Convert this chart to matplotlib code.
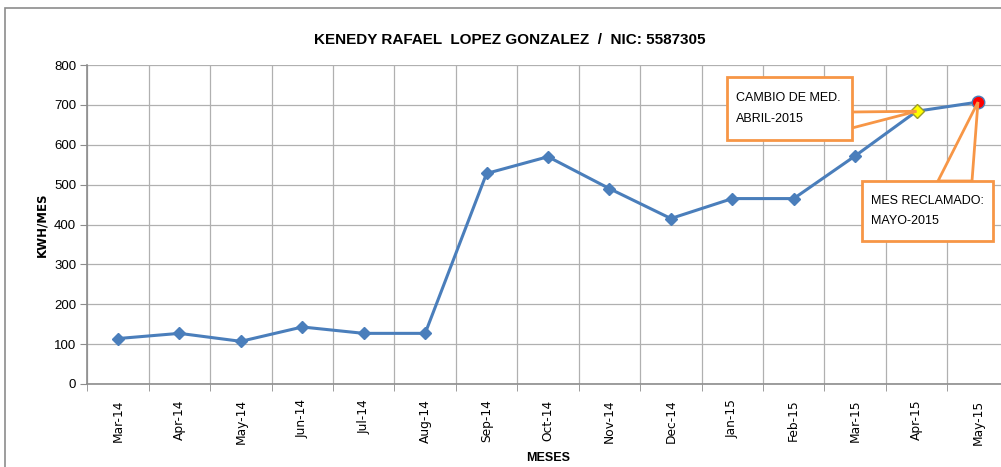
import matplotlib
matplotlib.use("Agg")
import matplotlib.pyplot as plt
from matplotlib.patches import Polygon, Rectangle
import numpy as np

months = ["Mar-14", "Apr-14", "May-14", "Jun-14", "Jul-14", "Aug-14", "Sep-14", "Oct-14",
          "Nov-14", "Dec-14", "Jan-15", "Feb-15", "Mar-15", "Apr-15", "May-15"]
kwh = [114, 127, 107, 143, 127, 127, 528, 570, 490, 415, 465, 465, 572, 684, 707]
yticks = [0, 100, 200, 300, 400, 500, 600, 700, 800]
title = "KENEDY RAFAEL  LOPEZ GONZALEZ  /  NIC: 5587305"
note1 = "CAMBIO DE MED.\nABRIL-2015"
note2 = "MES RECLAMADO:\nMAYO-2015"

W, H = 1001, 467
fig = plt.figure(figsize=(W / 100, H / 100), dpi=100)
fig.patch.set_facecolor("white")
narrow = "Liberation Sans"

# outer chart border
fig.patches.append(Rectangle((5 / W, -0.05), 1.2, (H - 8) / H + 0.05, transform=fig.transFigure,
                             fill=False, edgecolor="#8c8c8c", linewidth=1.2))

left, right, top, bottom = 87.3, 1008.7, 65, 384
ax = fig.add_axes([left / W, (H - bottom) / H, (right - left) / W, (bottom - top) / H])
x = np.arange(len(months))
blue = "#4A7EBB"
ax.plot(x, kwh, color=blue, linewidth=2.2, marker="D", markersize=6, markerfacecolor=blue,
        markeredgecolor=blue, zorder=3)
ax.plot(x[13], kwh[13], marker="D", markersize=7, markerfacecolor="#FFFF00",
        markeredgecolor="#9B9B2A", linestyle="none", zorder=4)
ax.plot(x[14], kwh[14], marker="o", markersize=9, markerfacecolor="#FF0000",
        markeredgecolor=blue, linestyle="none", zorder=4)

ax.set_xlim(-0.5, len(months) - 0.5)
ax.set_ylim(0, 800)
ax.set_yticks(yticks)
ax.set_yticklabels([str(v) for v in yticks], fontsize=9.5, family=narrow)
ax.set_xticks(x)
ax.set_xticklabels(months, rotation=90, fontsize=8.8, family="DejaVu Sans")
ax.set_xticks(np.arange(-0.5, len(months), 1), minor=True)
ax.tick_params(axis="x", which="major", length=0, pad=11)
ax.tick_params(axis="x", which="minor", length=5, color="#8c8c8c", direction="out")
ax.tick_params(axis="y", length=5, color="#8c8c8c", direction="out", pad=3)
ax.grid(True, which="minor", axis="x", color="#b0b0b0", linewidth=0.9)
ax.grid(True, which="major", axis="y", color="#b0b0b0", linewidth=0.9)
ax.set_axisbelow(True)
for s in ["top", "right"]:
    ax.spines[s].set_visible(False)
for s in ["left", "bottom"]:
    ax.spines[s].set_color("#8c8c8c")
    ax.spines[s].set_linewidth(1.2)

ax.set_ylabel("KWH/MES", fontsize=8.5, fontweight="bold", labelpad=4)
fig.text(548 / W, 1 - 458 / H, "MESES", ha="center", va="center", fontsize=9,
         fontweight="bold", family=narrow)
fig.text(510 / W, 1 - 40 / H, title, ha="center", va="center", fontsize=11,
         fontweight="bold", family=narrow)

orange = "#F79646"
def px2data(px, py):
    return ax.transData.inverted().transform((px, H - py))

# callout 1 wedge to Apr-15
p_apr = (x[13], kwh[13])
a = px2data(852, 112); b = px2data(852, 128)
ax.add_patch(Polygon([a, p_apr, b], closed=True, facecolor="white", edgecolor=orange,
                     linewidth=2, zorder=5, clip_on=False))
# callout 2 wedge to May-15
p_may = (x[14], kwh[14])
c = px2data(938, 181); d = px2data(972, 181)
ax.add_patch(Polygon([c, p_may, d], closed=True, facecolor="white", edgecolor=orange,
                     linewidth=2, zorder=5, clip_on=False))

def box(x0, y0, x1, y1, txt):
    r = Rectangle((x0 / W, 1 - y1 / H), (x1 - x0) / W, (y1 - y0) / H, transform=fig.transFigure,
                  facecolor="white", edgecolor=orange, linewidth=2, zorder=6)
    fig.patches.append(r)
    fig.text((x0 + 9) / W, 1 - (y0 + y1) / 2 / H, txt, ha="left", va="center", fontsize=9,
             family=narrow, linespacing=1.95, zorder=7)

box(727, 77, 852, 140, note1)
box(862, 181, 993, 241, note2)

fig.savefig("out.png", dpi=100, facecolor="white")
